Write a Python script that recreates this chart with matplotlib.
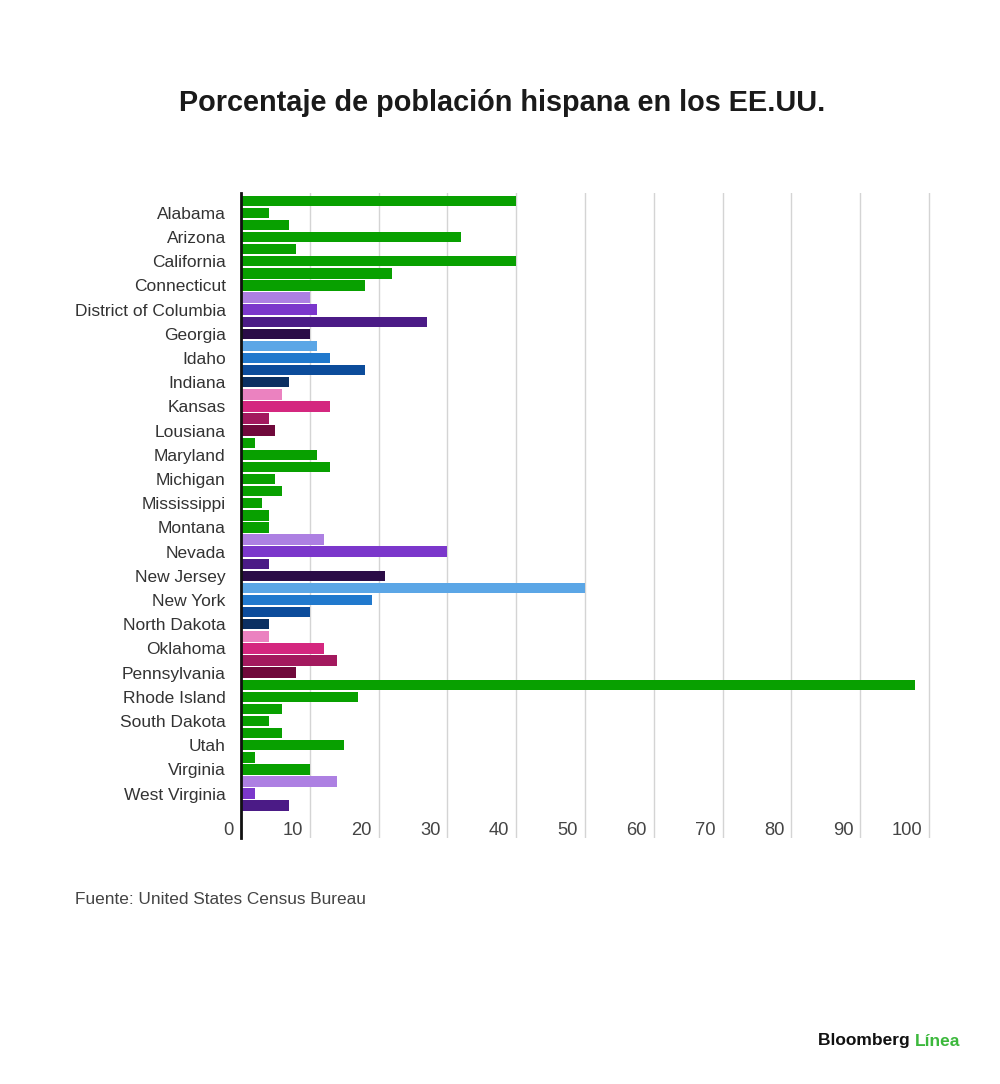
"""Porcentaje de población hispana en los EE.UU. - horizontal bars."""

import matplotlib
matplotlib.use("Agg")
import matplotlib.pyplot as plt
from matplotlib.transforms import ScaledTranslation

plt.rcParams["font.family"] = ["Liberation Sans", "DejaVu Sans"]

TITLE = "Porcentaje de población hispana en los EE.UU."
SOURCE = "Fuente: United States Census Bureau"

# one bar per row, top to bottom (only every other row is labelled)
states = [
    "Texas", "Alabama", "Alaska", "Arizona", "Arkansas", "California",
    "Colorado", "Connecticut", "Delaware", "District of Columbia", "Florida",
    "Georgia", "Hawaii", "Idaho", "Illinois", "Indiana", "Iowa", "Kansas",
    "Kentucky", "Lousiana", "Maine", "Maryland", "Massachusetts", "Michigan",
    "Minnesota", "Mississippi", "Missouri", "Montana", "Nebraska", "Nevada",
    "New Hampshire", "New Jersey", "New Mexico", "New York", "North Carolina",
    "North Dakota", "Ohio", "Oklahoma", "Oregon", "Pennsylvania",
    "Puerto Rico", "Rhode Island", "South Carolina", "South Dakota",
    "Tennessee", "Utah", "Vermont", "Virginia", "Washington",
    "West Virginia", "Wisconsin",
]
pct_hispanic = [
    40, 4, 7, 32, 8, 40, 22, 18, 10, 11, 27, 10, 11, 13, 18, 7, 6, 13, 4, 5,
    2, 11, 13, 5, 6, 3, 4, 4, 12, 30, 4, 21, 50, 19, 10, 4, 4, 12, 14, 8,
    98, 17, 6, 4, 6, 15, 2, 10, 14, 2, 7,
]
x_ticks = [0, 10, 20, 30, 40, 50, 60, 70, 80, 90, 100]

# 20-colour cycle: 8 greens, then purples, blues and pinks
palette = (
    ["#08a000"] * 8
    + ["#ad80e2", "#7b37cb", "#4b1b86", "#2b0c47"]
    + ["#5ba6e6", "#2179cd", "#0c4c9b", "#0b3062"]
    + ["#eb82c0", "#d4277f", "#a3195e", "#70093b"]
)
colors = [palette[i % len(palette)] for i in range(len(states))]

fig = plt.figure(figsize=(10, 10.84), dpi=100)
W, H = 1000, 1084
left, right, top, bottom = 241, 932, 193, 838
ax = fig.add_axes([left / W, 1 - bottom / H, (right - left) / W, (bottom - top) / H])

rows = list(range(len(states)))
ax.barh(rows, pct_hispanic, height=0.86, color=colors, zorder=3)

ax.set_xlim(0, 100.44)
ax.set_ylim(52.67, -0.64)

ax.set_yticks(rows[1::2])
ax.set_yticklabels(states[1::2], fontsize=12.5, color="#333333")
ax.tick_params(axis="y", length=0, pad=11)

ax.set_xticks(x_ticks)
ax.set_xticklabels([str(t) for t in x_ticks], fontsize=13.2, color="#444444")
ax.tick_params(axis="x", length=0, pad=-11.5)
shift = ScaledTranslation(-0.07, 0, fig.dpi_scale_trans)
for lab in ax.get_xticklabels():
    lab.set_ha("right")
    lab.set_transform(lab.get_transform() + shift)

ax.grid(axis="x", color="#d4d4d4", linewidth=1, zorder=0)
ax.grid(axis="y", visible=False)
for side in ["top", "right", "bottom"]:
    ax.spines[side].set_visible(False)
ax.spines["left"].set_color("#111111")
ax.spines["left"].set_linewidth(2)
ax.spines["left"].set_zorder(4)

fig.text(0.502, 1 - 103 / H, TITLE, ha="center", va="center",
         fontsize=20.8, fontweight="bold", color="#1a1a1a")
fig.text(75 / W, 1 - 900 / H, SOURCE, ha="left", va="center",
         fontsize=12.4, color="#444444")

brand = fig.text(818 / W, 1 - 1041 / H, "Bloomberg ", ha="left", va="center",
                 fontsize=12.5, fontweight="bold", color="#111111")
fig.canvas.draw()
bb = brand.get_window_extent()
fig.text(bb.x1 / W, 1 - 1041 / H, "Línea", ha="left", va="center",
         fontsize=12.5, fontweight="bold", color="#3cb83c")

fig.savefig("out.png", dpi=100)
plt.close(fig)
